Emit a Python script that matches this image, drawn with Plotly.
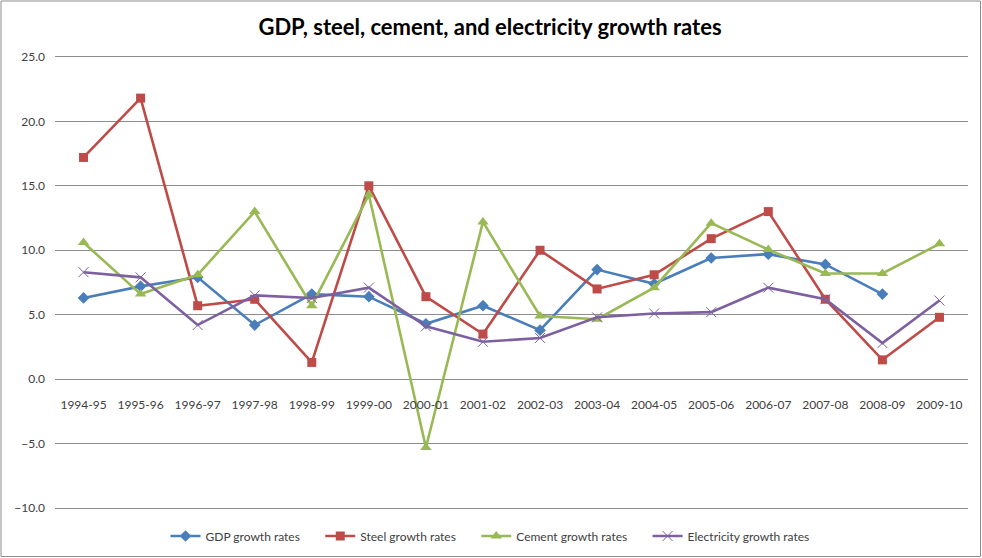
import plotly.graph_objects as go

years = ["1994-95", "1995-96", "1996-97", "1997-98", "1998-99", "1999-00", "2000-01", "2001-02",
         "2002-03", "2003-04", "2004-05", "2005-06", "2006-07", "2007-08", "2008-09", "2009-10"]
gdp = [6.3, 7.2, 7.9, 4.2, 6.6, 6.4, 4.3, 5.7, 3.8, 8.5, 7.4, 9.4, 9.7, 8.9, 6.6, None]
steel = [17.2, 21.8, 5.7, 6.2, 1.3, 15.0, 6.4, 3.5, 10.0, 7.0, 8.1, 10.9, 13.0, 6.2, 1.5, 4.8]
cement = [10.6, 6.6, 8.1, 13.0, 5.7, 14.3, -5.3, 12.2, 4.9, 4.65, 7.1, 12.1, 10.05, 8.2, 8.2, 10.5]
electricity = [8.3, 7.9, 4.2, 6.5, 6.3, 7.1, 4.1, 2.9, 3.2, 4.8, 5.1, 5.2, 7.1, 6.2, 2.8, 6.1]
y_ticks = [-10, -5, 0, 5, 10, 15, 20, 25]

FONT = "Lato, 'Liberation Sans', sans-serif"
GAP = "\u00a0" * 5

fig = go.Figure()
fig.add_trace(go.Scatter(x=years, y=gdp, name="GDP growth rates" + GAP, mode="lines+markers",
                         line=dict(color="#4a7ebb", width=2.6),
                         marker=dict(symbol="diamond", size=9, color="#4a7ebb")))
fig.add_trace(go.Scatter(x=years, y=steel, name="Steel growth rates" + GAP, mode="lines+markers",
                         line=dict(color="#be4b48", width=2.6),
                         marker=dict(symbol="square", size=9, color="#be4b48")))
fig.add_trace(go.Scatter(x=years, y=cement, name="Cement growth rates" + GAP, mode="lines+markers",
                         line=dict(color="#98b954", width=2.6),
                         marker=dict(symbol="triangle-up", size=10, color="#98b954")))
fig.add_trace(go.Scatter(x=years, y=electricity, name="Electricity growth rates", mode="lines+markers",
                         line=dict(color="#7d60a0", width=2.6),
                         marker=dict(symbol="x-thin", size=10, color="#7d60a0",
                                     line=dict(width=1, color="#7d60a0"))))

W, H = 982, 558
ml, mr, mt, mb = 55, 14, 53, 46
pw, ph = W - ml - mr, H - mt - mb
ymin, ymax = -10, 25
pad = 0.3
span = ymax - ymin + 2 * pad


def py(p):
    return (H - mb - p) / ph


def px(p):
    return (p - ml) / pw


fig.update_layout(
    width=W, height=H,
    margin=dict(l=ml, r=mr, t=mt, b=mb, autoexpand=False),
    paper_bgcolor="white", plot_bgcolor="white",
    font=dict(family=FONT, size=12, color="#404040"),
    title=dict(text="<b>GDP, steel, cement, and electricity growth rates</b>",
               x=px(490), xref="paper", xanchor="center", y=1 - 27 / H, yanchor="middle",
               font=dict(family=FONT, size=22, color="#000000")),
    showlegend=True,
    legend=dict(orientation="h", x=px(490), xanchor="center", y=py(536), yanchor="middle",
                font=dict(family=FONT, size=12, color="#404040"), itemwidth=30,
                tracegroupgap=0),
    xaxis=dict(type="category", showgrid=False, showline=False, ticks="",
               anchor="free", position=(0 - ymin + pad) / span, automargin=False,
               ticklabelstandoff=17,
               tickfont=dict(family=FONT, size=12, color="#404040"),
               range=[-0.5, len(years) - 0.5], zeroline=False),
    yaxis=dict(range=[ymin - pad, ymax + pad], tickvals=y_ticks, tickformat=".1f",
               showgrid=True, gridcolor="#8c8c8c", gridwidth=1, automargin=False,
               zeroline=True, zerolinecolor="#8c8c8c", zerolinewidth=1,
               showline=False, ticks="", ticklabelstandoff=9,
               tickfont=dict(family=FONT, size=12, color="#404040")),
    shapes=[dict(type="rect", xref="paper", yref="paper",
                 x0=px(1), x1=px(W - 1.5), y0=py(H - 1.5), y1=py(1),
                 line=dict(color="#8c8c8c", width=1), fillcolor="rgba(0,0,0,0)", layer="above")],
)

fig.write_html("out.html", config={"displayModeBar": False},
               post_script="document.body.style.margin='0';document.body.style.overflow='hidden';")
